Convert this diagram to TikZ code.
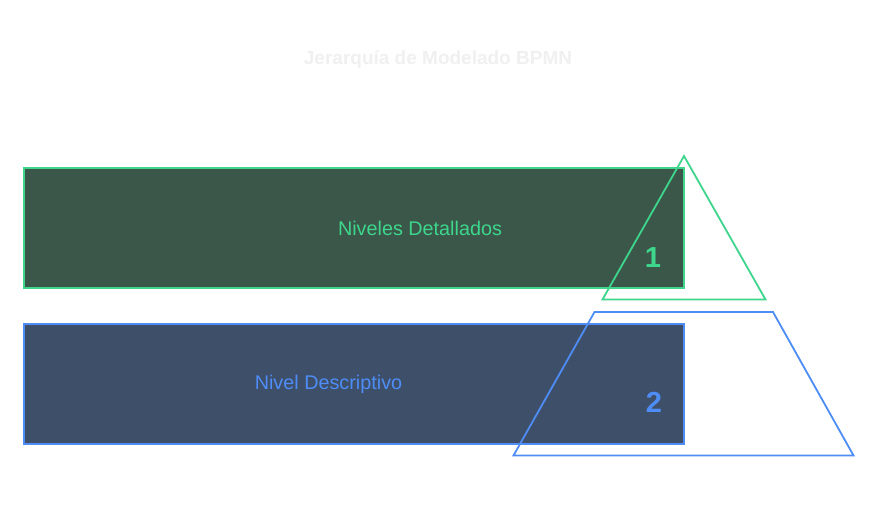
\documentclass[tikz,border=0pt]{standalone}
\usepackage{fontspec}
\setmainfont{Liberation Sans}
\usetikzlibrary{positioning}
\definecolor{bp-green}{HTML}{3DD68C}
\definecolor{bp-greenfill}{HTML}{3B5749}
\definecolor{bp-blue}{HTML}{4E8DF5}
\definecolor{bp-bluefill}{HTML}{3E4F6A}
\definecolor{bp-title}{HTML}{F0F0F0}
\begin{document}
\begin{tikzpicture}[x=1pt, y=-1pt]
    \fill[white] (0,0) rectangle (878,504);
    \useasboundingbox (0,0) rectangle (878,504);
    \node[draw=bp-green, fill=bp-greenfill, line width=1.8pt, inner sep=0pt, minimum width=660pt, minimum height=120pt] (detail) at (354,228) {};
    \node[draw=bp-blue, fill=bp-bluefill, line width=1.8pt, inner sep=0pt, minimum width=660pt, minimum height=120pt] (descr) at (354,384) {};
    \node[bp-title, font=\fontsize{19}{22}\selectfont\bfseries] (title) at (438,60) {Jerarquía de Modelado BPMN};
    \node[bp-green, font=\fontsize{19.8}{23}\selectfont] (detaillabel) at (420,228) {Niveles Detallados};
    \node[bp-blue, font=\fontsize{19.8}{23}\selectfont] (descrlabel) at (328.5,384) {Nivel Descriptivo};
    % piramide
    \draw[bp-green, line width=1.8pt, line join=miter] (684,156) -- (765.5,299.5) -- (602.5,299.5) -- cycle;
    \draw[bp-blue, line width=1.8pt, line join=miter] (594.5,312) -- (773,312) -- (853.5,455.5) -- (513.5,455.5) -- cycle;
    \node[bp-green, font=\fontsize{29}{32}\selectfont\bfseries] (one) at (653,258) {1};
    \node[bp-blue, font=\fontsize{29}{32}\selectfont\bfseries] (two) at (654,402) {2};
\end{tikzpicture}
\end{document}
